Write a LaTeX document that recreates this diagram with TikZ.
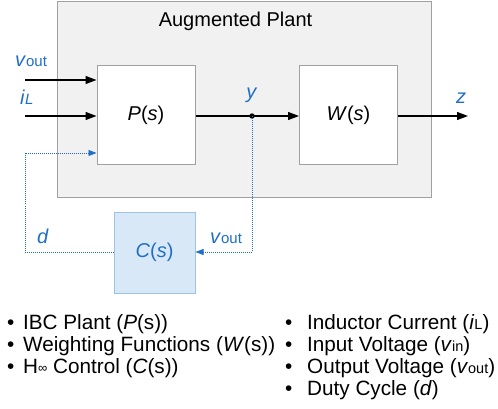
\documentclass[tikz,border=0pt]{standalone}
\usepackage{fontspec}
\setmainfont{Liberation Sans}
\usetikzlibrary{arrows.meta}
\definecolor{lblue}{RGB}{31,111,200}
\definecolor{plantfill}{RGB}{241,241,241}
\definecolor{plantdraw}{RGB}{160,160,160}
\definecolor{cfill}{RGB}{217,232,247}
\definecolor{cdraw}{RGB}{157,195,230}
\newcommand{\mybig}{\fontsize{20}{24}\selectfont}
\newcommand{\mylist}{\fontsize{20.7}{24}\selectfont}
\newcommand{\mysub}{\fontsize{15}{18}\selectfont}
\newcommand{\mylsub}{\fontsize{14.5}{18}\selectfont}
\tikzset{
  plantbox/.style={draw=plantdraw, fill=plantfill, line width=1pt, inner sep=0pt},
  blockbox/.style={draw=plantdraw, fill=white, line width=1pt, inner sep=0pt, minimum width=98pt, minimum height=99pt, font=\mybig},
  cbox/.style={draw=cdraw, fill=cfill, line width=1pt, inner sep=0pt, minimum width=81pt, minimum height=81pt, font=\mybig, text=lblue},
  txt/.style={inner sep=0pt, anchor=base, font=\mybig},
  btxt/.style={inner sep=0pt, anchor=base, font=\mybig, text=lblue},
  lst/.style={inner sep=0pt, anchor=base west, font=\mylist},
  arr/.style={line width=1.3pt, -{Triangle[length=11pt,width=8pt]}},
  sig/.style={line width=1.3pt},
  dotl/.style={draw=lblue, line width=0.8pt, dash pattern=on 1pt off 1pt},
  darr/.style={dotl, -{Triangle[length=8pt,width=6pt]}, draw=lblue}
}
\begin{document}
\begin{tikzpicture}[x=1pt,y=-1pt]
\useasboundingbox (0,0) rectangle (498,409);
% augmented plant
\node[plantbox, minimum width=374pt, minimum height=195pt] (G) at (244,99.5) {};
\node[txt] (title) at (235.5,27) {Augmented Plant};
% blocks
\node[blockbox] (P) at (146,115.5) {\textit{P}(\textit{s})};
\node[blockbox] (W) at (348.5,115.5) {\textit{W}(\textit{s})};
\node[cbox] (C) at (154.5,252.5) {\textit{C}(\textit{s})};
% inputs
\coordinate (vin) at (25,80);
\coordinate (iin) at (25,116);
\draw[arr] (vin) -- (P.west |- vin);
\draw[arr] (iin) -- (P.west |- iin);
\node[btxt, anchor=base west] (lv) at (15,67) {\textit{v}{\mysub out}};
\node[btxt, anchor=base west] (li) at (20,105) {\textit{i}{\mysub\itshape L}};
% output path
\coordinate (J) at (252,116);
\draw[sig] (P.east |- J) -- (J);
\draw[arr] (J) -- (W.west |- J);
\fill (J) circle (2.7pt);
\node[btxt] (ly) at (252,99) {\textit{y}};
\coordinate (zout) at (468,116);
\draw[arr] (W.east |- zout) -- (zout);
\node[btxt] (lz) at (461,104) {\textit{z}};
% feedback
\coordinate (Jd) at (252,252);
\draw[darr] (J) -- (Jd) -- (C.east |- Jd);
\coordinate (dL) at (25,252);
\coordinate (dU) at (25,153);
\draw[darr] (C.west |- dL) -- (dL) -- (dU) -- (P.west |- dU);
\node[btxt, anchor=base west] (ld) at (37,243) {\textit{d}};
\node[btxt, anchor=base west] (lv2) at (210,243) {\textit{v}{\mysub out}};
% list
\node[lst] (a1) at (7,329) {\makebox[16pt][l]{\textbullet}IBC Plant (\textit{P}(s))};
\node[lst] (a2) at (7,351) {\makebox[16pt][l]{\textbullet}Weighting Functions (\textit{W}(s))};
\node[lst] (a3) at (7,373) {\makebox[16pt][l]{\textbullet}H\raisebox{1pt}{\fontsize{13}{13}\selectfont ∞} Control (\textit{C}(s))};
\node[lst] (b1) at (285,329) {\makebox[22pt][l]{\textbullet}Inductor Current (\textit{i}{\mylsub L})};
\node[lst] (b2) at (285,351) {\makebox[22pt][l]{\textbullet}Input Voltage (\textit{v}{\mylsub in})};
\node[lst] (b3) at (285,373) {\makebox[22pt][l]{\textbullet}Output Voltage (\textit{v}{\mylsub out})};
\node[lst] (b4) at (285,395) {\makebox[22pt][l]{\textbullet}Duty Cycle (\textit{d})};
\end{tikzpicture}
\end{document}
